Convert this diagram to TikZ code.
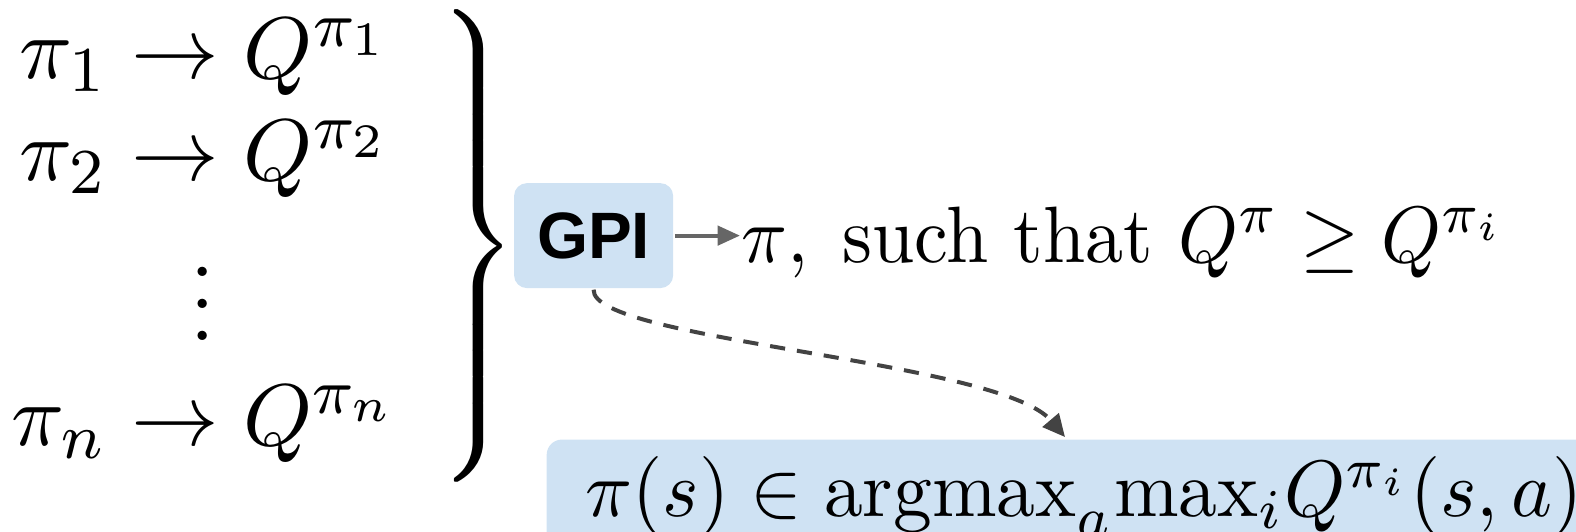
\documentclass[tikz,border=0pt]{standalone}
\usepackage{fontspec}
\usepackage{amsmath}
\newfontfamily\gpifont{Liberation Sans}
\usetikzlibrary{arrows.meta}
\definecolor{gpiblue}{HTML}{CFE2F3}
\definecolor{arrgray}{HTML}{666666}
\definecolor{loopgray}{HTML}{434343}
\tikzset{
  rowlbl/.style={anchor=base west, inner sep=0pt, font=\fontsize{10.95}{13}\selectfont},
  gpibox/.style={fill=gpiblue, rounded corners=1.6pt, minimum width=0.699cm, minimum height=0.461cm,
    inner sep=0pt, font=\gpifont\bfseries\fontsize{8.2}{10}\selectfont},
  rulebox/.style={fill=gpiblue, rounded corners=1.9pt, inner xsep=5pt, inner ysep=0pt,
    text width=135pt, align=left, text height=9.6pt, text depth=6pt},
  flow/.style={-{Triangle[length=2.8pt, width=2.4pt]}, line width=0.5pt, draw=arrgray},
  loopflow/.style={-{Triangle[length=2.8pt, width=2.6pt]}, line width=0.5pt, draw=loopgray,
    dash pattern=on 1.9pt off 1.5pt},
}

\begin{document}
\begin{tikzpicture}
    \useasboundingbox (0,0) rectangle (6.924,-2.337);
    \node[rowlbl] (row1) at (0.079,-0.343) {$\pi_1 \to Q^{\pi_1}$};
    \node[rowlbl] (row2) at (0.079,-0.791) {$\pi_2 \to Q^{\pi_2}$};
    \node[rowlbl] (rown) at (0.044,-1.955) {$\pi_n \to Q^{\pi_n}$};
    \node[anchor=south, inner sep=0pt, font=\fontsize{10.95}{13}\selectfont] (dots) at (0.892,-1.503) {$\vdots$};
    \node[anchor=east, inner sep=0pt, font=\fontsize{10.95}{13}\selectfont] (brace) at (2.281,-1.080)
      {$\left.\vcenter{\hbox{\rule{0pt}{62pt}}}\right\}$};
    \node[gpibox] (gpi) at (2.608,-1.035) {GPI};
    \node[anchor=base west, inner sep=0pt, xscale=0.95, transform shape] (res) at (3.251,-1.151)
      {$\pi,\;\text{such that}\ Q^{\pi}\geq Q^{\pi_i}$};
    \node[rulebox, anchor=north west, xscale=0.97, transform shape] (argm) at (2.395,-1.924)
      {$\pi(s) \in \mathrm{argmax}_a\mathrm{max}_i Q^{\pi_i}(s,a)$};
    \coordinate (tgt) at (4.679,-1.920);
    \draw[flow] (gpi) -- (gpi -| res.west);
    \draw[loopflow] (gpi.south) .. controls +(-0.013,-0.224) and +(-0.286,0.338) .. (tgt);
\end{tikzpicture}
\end{document}
